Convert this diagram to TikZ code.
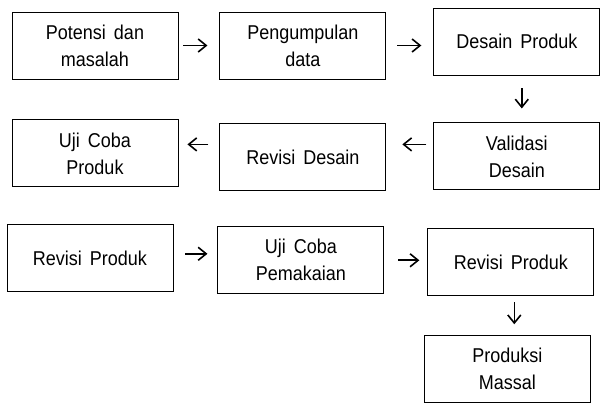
\documentclass[tikz,border=0pt]{standalone}
\usepackage{fontspec}
\setmainfont{Liberation Sans}[FakeStretch=0.9, WordSpace=1.6]
\usetikzlibrary{positioning,arrows.meta}

\begin{document}
\begin{tikzpicture}[
node distance = 41pt and 41pt,
box/.style={rectangle, draw=black, line width=0.9pt, minimum width=166pt, minimum height=67pt, inner sep=2pt, align=center, font=\fontsize{20}{27}\selectfont},
flow/.style={-{Straight Barb[length=8pt,width=13pt]}, line width=1.6pt}]

\useasboundingbox (0,0) rectangle (605pt,-403pt);

\node[box] (pot) at (95pt,-45.5pt) {Potensi dan\\masalah};
\node[box] (kum) [right = 41pt of pot] {Pengumpulan\\data};
\node[box] (des) [right = 47pt of kum, yshift=4pt] {Desain Produk};
\node[box] (val) [below = 47pt of des] {Validasi\\Desain};
\node[box] (rev) [left = 47pt of val, yshift=-1pt] {Revisi Desain};
\node[box] (uji) [left = 41pt of rev, yshift=4pt] {Uji Coba\\Produk};

\node[box] (rp1) [below = 37pt of uji, xshift=-5pt] {Revisi Produk};
\node[box] (pak) [right = 44pt of rp1, yshift=-2pt] {Uji Coba\\Pemakaian};
\node[box] (rp2) [right = 43pt of pak, yshift=-2pt] {Revisi Produk};
\node[box] (mas) [below = 39pt of rp2, xshift=-3.5pt] {Produksi\\Massal};

\coordinate (c1) at ([xshift=5pt]des.south);
\coordinate (c2) at ([yshift=12pt]val.west);
\coordinate (c3) at ([yshift=13pt]rev.west);
\coordinate (c4) at ([yshift=4.5pt]rp1.east);
\coordinate (c5) at ([xshift=3.5pt]rp2.south);

\draw[flow, shorten <=5pt, shorten >=12pt] (pot.east) -- (pot.east -| kum.west);
\draw[flow, shorten <=11pt, shorten >=12pt] (kum.east) -- (kum.east -| des.west);
\draw[flow, shorten <=13pt, shorten >=14pt] (c1) -- (c1 |- val.north);
\draw[flow, shorten <=7pt, shorten >=16pt] (c2) -- (c2 -| rev.east);
\draw[flow, shorten <=11pt, shorten >=9pt] (c3) -- (c3 -| uji.east);

\draw[flow, shorten <=12pt, shorten >=10pt] (c4) -- (c4 -| pak.west);
\draw[flow, shorten <=14pt, shorten >=8pt] (pak.east) -- (pak.east -| rp2.west);
\draw[flow, shorten <=6pt, shorten >=11pt] (c5) -- (c5 |- mas.north);
\end{tikzpicture}
\end{document}
